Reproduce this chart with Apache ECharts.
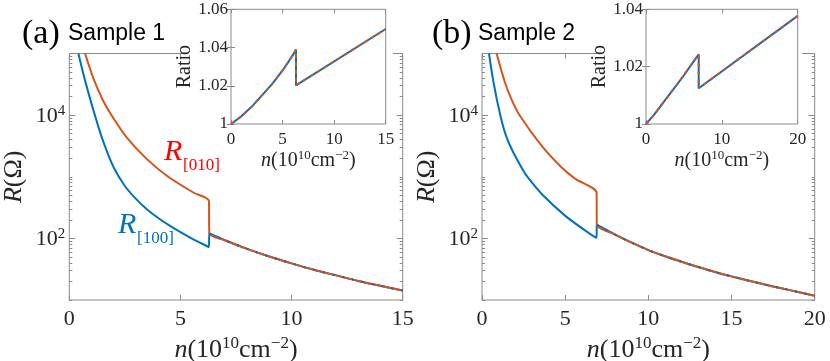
<!DOCTYPE html>
<html><head><meta charset="utf-8">
<script src="https://cdn.jsdelivr.net/npm/echarts@6/dist/echarts.min.js"></script>
<style>html,body{margin:0;padding:0;background:#fff}#c{width:830px;height:361px}</style>
</head><body><div id="c"></div>
<script>
// ---------- Sample 1 (main): n (10^10 cm^-2) vs R (Ohm) ----------
const s1BlueN   = [0.41, 0.71, 1.15, 1.53, 2.0, 2.5, 3.0, 3.5, 4.0, 4.5, 5.0, 5.5, 6.0, 6.28, 6.3, 7, 8, 9, 10, 11, 12, 13, 14, 15];
const s1BlueR   = [100000, 36300, 10000, 3720, 1410, 708, 437, 295, 214, 162, 126, 100, 81, 72.4, 120, 93.3, 67.6, 50.7, 39.3, 30.9, 25.1, 20.4, 17.0, 14.3];
const s1OrangeN = [0.71, 1.08, 1.5, 1.95, 2.58, 3.48, 4.45, 5.6, 6.28, 6.3, 7, 8, 9, 10, 11, 12, 13, 14, 15];
const s1OrangeR = [100000, 39800, 17800, 9330, 4370, 1950, 1000, 550, 407, 120, 93.3, 67.6, 50.7, 39.3, 30.9, 25.1, 20.4, 17.0, 14.3];
// ---------- Sample 2 (main) ----------
const s2BlueN   = [0.42, 0.68, 1.08, 1.4, 1.78, 2.48, 2.78, 3.59, 4.99, 6.19, 6.89, 6.9, 8, 9, 10, 11, 12, 13, 14, 15, 16, 17, 18, 19, 20];
const s2BlueR   = [100000, 35500, 10500, 5010, 2820, 1260, 955, 525, 234, 135, 102, 166, 115, 85.1, 64.6, 51.3, 41.7, 34.3, 28.5, 24.2, 20.7, 17.8, 15.5, 13.5, 11.7];
const s2OrangeN = [0.88, 1.38, 1.8, 2.28, 3.59, 4.79, 5.59, 6.89, 6.9, 8, 9, 10, 11, 12, 13, 14, 15, 16, 17, 18, 19, 20];
const s2OrangeR = [100000, 33900, 17400, 9770, 3160, 1410, 933, 550, 166, 115, 85.1, 64.6, 51.3, 41.7, 34.3, 28.5, 24.2, 20.7, 17.8, 15.5, 13.5, 11.7];
// ---------- Insets: ratio ----------
const s1RatioN = [0, 1, 2, 3, 4, 5, 6, 6.3, 6.3, 15];
const s1RatioBlue   = [1, 1.004, 1.009, 1.015, 1.021, 1.028, 1.036, 1.039, 1.0202, 1.0497];
const s1RatioOrange = [1, 1.004, 1.009, 1.015, 1.021, 1.028, 1.036, 1.039, 1.0202, 1.0497];
const s2RatioN = [0, 1, 2, 3, 4, 5, 6, 6.95, 6.95, 20];
const s2RatioBlue   = [1, 1.003, 1.0065, 1.010, 1.0135, 1.017, 1.0208, 1.0243, 1.01245, 1.0377];
const s2RatioOrange = [1, 1.003, 1.0065, 1.010, 1.0135, 1.017, 1.0208, 1.0243, 1.01245, 1.0377];
// index of the first point after the drop (dashed overlay starts here)
const s1Jump = 14, s2Jump = 11;

const BLUE = '#0072BD', ORANGE = '#D95319';
const AX = '#8a8a8a', TXT = '#262626';
const SERIF = '"Liberation Serif", "DejaVu Serif", serif';

const zip = (a, b) => a.map((v, i) => [v, b[i]]);
const majorLog = [100, 10000];
const minorLog = [10, 1000, 100000];
for (let k = 1; k <= 4; k++) for (let m = 2; m <= 9; m++) minorLog.push(m * Math.pow(10, k));

const xNameRich = (fs, sfs) => ({
  i: {fontFamily: SERIF, fontStyle: 'italic', fontSize: fs, color: TXT, verticalAlign: 'bottom', lineHeight: fs + 2},
  t: {fontFamily: SERIF, fontSize: fs, color: TXT, verticalAlign: 'bottom', lineHeight: fs + 2},
  s: {fontFamily: SERIF, fontSize: sfs, color: TXT, verticalAlign: 'top', lineHeight: sfs}
});
const xName = '{i|n}{t|(10}{s|10}{t|cm}{s|−2}{t|)}';

function xAx(grid, max, interval, top, opts) {
  const o = opts || {};
  return {
    gridIndex: grid, type: 'value', min: 0, max: max, interval: interval,
    position: top ? 'top' : 'bottom', zlevel: o.zlevel || 0,
    axisLine: {show: false}, splitLine: {show: false},
    axisTick: {show: true, inside: true, length: o.tickLen || 5, lineStyle: {color: AX}},
    axisLabel: top ? {show: false} : {margin: o.margin || 8, fontSize: o.fs || 22, fontFamily: SERIF, color: TXT},
    name: top ? '' : xName, nameLocation: 'middle', nameGap: o.nameGap || 35,
    nameTextStyle: {rich: xNameRich(o.nfs || 26, o.nsfs || 17)}
  };
}
function yLog(grid, right, major, withLabel, withName) {
  return {
    gridIndex: grid, type: 'log', logBase: 10, min: 10, max: 100000,
    position: right ? 'right' : 'left',
    axisLine: {show: false}, splitLine: {show: false},
    axisTick: {show: true, inside: true, length: major ? 6 : 3, customValues: major ? majorLog : minorLog, lineStyle: {color: AX}},
    axisLabel: withLabel ? {
      margin: 4, customValues: majorLog,
      formatter: v => '{b|10}{s|' + Math.round(Math.log10(v)) + '}',
      rich: {
        b: {fontFamily: SERIF, fontSize: 22, color: TXT, verticalAlign: 'bottom', lineHeight: 24},
        s: {fontFamily: SERIF, fontSize: 15, color: TXT, verticalAlign: 'top', lineHeight: 15}
      }
    } : {show: false},
    name: withName ? '{i|R}{t|(Ω)}' : '', nameLocation: 'middle', nameGap: 42, nameRotate: 90,
    nameTextStyle: {rich: {
      i: {fontFamily: SERIF, fontStyle: 'italic', fontSize: 26, color: TXT},
      t: {fontFamily: SERIF, fontSize: 26, color: TXT}
    }}
  };
}
function yRatio(grid, max, right) {
  return {
    gridIndex: grid, type: 'value', min: 1, max: max, interval: 0.02, zlevel: 1,
    position: right ? 'right' : 'left',
    axisLine: {show: false}, splitLine: {show: false},
    axisTick: {show: true, inside: true, length: 4, lineStyle: {color: AX}},
    axisLabel: right ? {show: false} : {margin: 3, fontSize: 17, fontFamily: SERIF, color: TXT},
    name: right ? '' : 'Ratio', nameLocation: 'middle', nameGap: 28, nameRotate: 90,
    nameTextStyle: {fontFamily: SERIF, fontSize: 20, color: TXT}
  };
}

const insetOpts = {zlevel: 1, tickLen: 4, fs: 17, margin: 7, nameGap: 19, nfs: 20, nsfs: 13};

const grids = [
  {left: 69.3, top: 53.5, width: 333.4, height: 246.5},
  {left: 482, top: 53.5, width: 332.7, height: 246.5},
  {left: 231, top: 9.3, width: 154.7, height: 114.7, zlevel: 1},
  {left: 646, top: 9.3, width: 151.7, height: 114.7, zlevel: 1}
].map(g => Object.assign({show: true, backgroundColor: '#fff', borderColor: AX, borderWidth: 1, containLabel: false, outerBoundsMode: 'none'}, g));

const lineS = (name, x, y, n, r, color, z, extra) => Object.assign({
  name: name, type: 'line', xAxisIndex: x, yAxisIndex: y, data: zip(n, r),
  showSymbol: false, symbol: 'none', smooth: 0.25,
  lineStyle: {color: color, width: 2}, itemStyle: {color: color}, z: z, animation: false
}, extra || {});

const option = {
  animation: false,
  grid: grids,
  xAxis: [
    xAx(0, 15, 5, false), xAx(0, 15, 5, true),
    xAx(1, 20, 5, false), xAx(1, 20, 5, true),
    xAx(2, 15, 5, false, insetOpts), xAx(2, 15, 5, true, insetOpts),
    xAx(3, 20, 10, false, insetOpts), xAx(3, 20, 10, true, insetOpts)
  ],
  yAxis: [
    yLog(0, false, true, true, true), yLog(0, false, false), yLog(0, true, true), yLog(0, true, false),
    yLog(1, false, true, true, true), yLog(1, false, false), yLog(1, true, true), yLog(1, true, false),
    yRatio(2, 1.06, false), yRatio(2, 1.06, true),
    yRatio(3, 1.04, false), yRatio(3, 1.04, true)
  ],
  series: [
    lineS('R100 s1', 0, 0, s1BlueN, s1BlueR, BLUE, 2),
    lineS('R010 s1', 0, 0, s1OrangeN, s1OrangeR, ORANGE, 3),
    lineS('R100 s1 dash', 0, 0, s1BlueN.slice(s1Jump), s1BlueR.slice(s1Jump), BLUE, 4, {lineStyle: {color: BLUE, width: 2, type: [2, 8]}}),
    lineS('R100 s2', 2, 4, s2BlueN, s2BlueR, BLUE, 2),
    lineS('R010 s2', 2, 4, s2OrangeN, s2OrangeR, ORANGE, 3),
    lineS('R100 s2 dash', 2, 4, s2BlueN.slice(s2Jump), s2BlueR.slice(s2Jump), BLUE, 4, {lineStyle: {color: BLUE, width: 2, type: [2, 8]}}),
    lineS('ratio b s1', 4, 8, s1RatioN, s1RatioBlue, BLUE, 2, {smooth: false, zlevel: 1}),
    lineS('ratio o s1', 4, 8, s1RatioN, s1RatioOrange, ORANGE, 3, {smooth: false, zlevel: 1, lineStyle: {color: ORANGE, width: 2, type: [4, 4]}}),
    lineS('ratio b s2', 6, 10, s2RatioN, s2RatioBlue, BLUE, 2, {smooth: false, zlevel: 1}),
    lineS('ratio o s2', 6, 10, s2RatioN, s2RatioOrange, ORANGE, 3, {smooth: false, zlevel: 1, lineStyle: {color: ORANGE, width: 2, type: [4, 4]}})
  ],
  graphic: [
    {type: 'rect', zlevel: 1, z: -10, shape: {x: 183, y: 0, width: 210, height: 58}, style: {fill: '#fff'}, silent: true},
    {type: 'rect', zlevel: 1, z: -10, shape: {x: 597, y: 0, width: 205, height: 58}, style: {fill: '#fff'}, silent: true},
    {type: 'text', x: 22, y: 17, style: {text: '(a)', font: '34px "Liberation Serif"', fill: '#000', verticalAlign: 'top'}},
    {type: 'text', x: 68, y: 22, style: {text: 'Sample 1', font: '23px "Liberation Sans"', fill: '#000', verticalAlign: 'top'}},
    {type: 'text', x: 432, y: 17, style: {text: '(b)', font: '34px "Liberation Serif"', fill: '#000', verticalAlign: 'top'}},
    {type: 'text', x: 478, y: 22, style: {text: 'Sample 2', font: '23px "Liberation Sans"', fill: '#000', verticalAlign: 'top'}},
    {type: 'text', x: 164, y: 137, style: {text: 'R', font: 'italic 30px "Liberation Serif"', fill: '#ff0000', verticalAlign: 'top'}},
    {type: 'text', x: 183, y: 157, style: {text: '[010]', font: '17px "Liberation Serif"', fill: '#ff0000', verticalAlign: 'top'}},
    {type: 'text', x: 118, y: 210, style: {text: 'R', font: 'italic 30px "Liberation Serif"', fill: BLUE, verticalAlign: 'top'}},
    {type: 'text', x: 137, y: 230, style: {text: '[100]', font: '17px "Liberation Serif"', fill: BLUE, verticalAlign: 'top'}}
  ]
};
const chart = echarts.init(document.getElementById('c'), null, {renderer: 'canvas'});
chart.setOption(option);
</script></body></html>
